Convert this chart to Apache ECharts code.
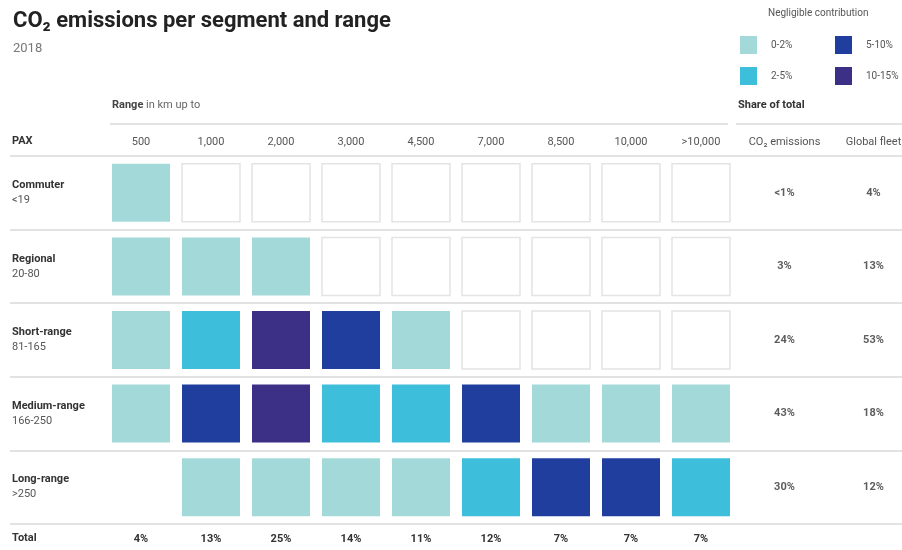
<!DOCTYPE html>
<html>
<head>
<meta charset="utf-8">
<script src="https://cdn.jsdelivr.net/npm/echarts@6/dist/echarts.min.js"></script>
<style>
  html, body { margin: 0; padding: 0; background: #fff; }
  #chart { width: 902px; height: 550px; }
</style>
</head>
<body>
<div id="chart"></div>
<script>
// range columns (km, "up to")
const ranges = ["500", "1,000", "2,000", "3,000", "4,500", "7,000", "8,500", "10,000", ">10,000"];
const segments = ["Commuter", "Regional", "Short-range", "Medium-range", "Long-range"];
const paxRanges = ["<19", "20-80", "81-165", "166-250", ">250"];

// emission class per cell: 0 negligible, 1 = 0-2%, 2 = 2-5%, 3 = 5-10%, 4 = 10-15%, null = no cell
const commuter = [1, 0, 0, 0, 0, 0, 0, 0, 0];
const regional = [1, 1, 1, 0, 0, 0, 0, 0, 0];
const shortRange = [1, 2, 4, 3, 1, 0, 0, 0, 0];
const mediumRange = [1, 3, 4, 2, 2, 3, 1, 1, 1];
const longRange = [null, 1, 1, 1, 1, 2, 3, 3, 2];

const classNames = ["Negligible contribution", "0-2%", "2-5%", "5-10%", "10-15%"];
const classColors = ["#ffffff", "#a3dad9", "#3dbfdc", "#1f3e9e", "#3c2f86"];

const rangeTotals = ["4%", "13%", "25%", "14%", "11%", "12%", "7%", "7%", "7%"];
const shareCo2 = ["<1%", "3%", "24%", "43%", "30%"];
const shareFleet = ["4%", "13%", "53%", "18%", "12%"];

const FONT = "Roboto";
const matrix = [commuter, regional, shortRange, mediumRange, longRange];

const cellSeries = classNames.map((name, level) => {
  const points = [];
  matrix.forEach((row, r) => {
    row.forEach((v, c) => {
      if (v === level) points.push([c, r]);
    });
  });
  return {
    name: name,
    type: "scatter",
    xAxisIndex: 0,
    yAxisIndex: 0,
    symbol: "rect",
    symbolSize: 58,
    data: points,
    itemStyle: level === 0
      ? { color: "#ffffff", borderColor: "#e4e4e4", borderWidth: 1.5, opacity: 1 }
      : { color: classColors[level], opacity: 1 },
    emphasis: { disabled: true },
    silent: true,
  };
});

const shareData = [];
segments.forEach((s, r) => {
  shareData.push([0, r, shareCo2[r]]);
  shareData.push([1, r, shareFleet[r]]);
});

const chart = echarts.init(document.getElementById("chart"), null, { renderer: "canvas" });

const legendText = { color: "#555", fontSize: 10, fontFamily: FONT, padding: [0, 0, 0, 9] };

chart.setOption({
  backgroundColor: "#fff",
  animation: false,
  textStyle: { fontFamily: FONT },
  title: {
    left: 8,
    top: 5,
    text: "CO₂ emissions per segment and range",
    subtext: "2018",
    itemGap: 10,
    textStyle: { fontSize: 22, fontWeight: "bold", color: "#222", fontFamily: FONT },
    subtextStyle: { fontSize: 13, color: "#777", fontFamily: FONT },
  },
  legend: [
    {
      left: 732, top: 1, icon: "rect", itemWidth: 17, itemHeight: 14,
      selectedMode: false, data: [classNames[0]],
      itemStyle: { borderWidth: 0 },
      textStyle: legendText,
    },
    {
      left: 735, top: 31, orient: "vertical", icon: "rect", itemWidth: 17, itemHeight: 18, itemGap: 13,
      selectedMode: false, data: [classNames[1], classNames[2]],
      textStyle: legendText,
    },
    {
      left: 830, top: 31, orient: "vertical", icon: "rect", itemWidth: 17, itemHeight: 18, itemGap: 13,
      selectedMode: false, data: [classNames[3], classNames[4]],
      textStyle: legendText,
    },
  ],
  grid: [
    { left: 106, right: 166, top: 156, bottom: 26, outerBoundsMode: "none" },
    { left: 740, width: 178, top: 156, bottom: 26, outerBoundsMode: "none" },
    { left: 10, right: 0, top: 156, bottom: 26, outerBoundsMode: "none" },
  ],
  xAxis: [
    {
      gridIndex: 0, type: "category", position: "top", data: ranges,
      axisLine: { show: false }, axisTick: { show: false },
      axisLabel: { color: "#555", fontSize: 11, margin: 8, interval: 0 },
    },
    {
      gridIndex: 0, type: "category", position: "bottom", data: rangeTotals,
      axisLine: { show: false }, axisTick: { show: false },
      axisLabel: { color: "#333", fontSize: 11, fontWeight: "bold", margin: 10, interval: 0 },
    },
    {
      gridIndex: 1, type: "category", position: "top", data: ["CO₂ emissions", "Global fleet"],
      axisLine: { show: false }, axisTick: { show: false },
      axisLabel: { color: "#555", fontSize: 11, margin: 8, interval: 0, hideOverlap: false },
    },
    { gridIndex: 2, type: "value", show: false, min: 0, max: 1 },
  ],
  yAxis: [
    {
      gridIndex: 0, type: "category", inverse: true, data: segments,
      axisLine: { show: false }, axisTick: { show: false },
      axisLabel: {
        align: "left", margin: 94, interval: 0,
        formatter: (value, idx) => "{b|" + value + "}\n{n|" + paxRanges[idx] + "}",
        rich: {
          b: { fontSize: 11, fontWeight: "bold", color: "#333", lineHeight: 15, fontFamily: FONT },
          n: { fontSize: 11, color: "#555", lineHeight: 15, fontFamily: FONT },
        },
      },
    },
    {
      gridIndex: 1, type: "category", inverse: true, data: segments, show: false,
    },
    {
      gridIndex: 2, type: "category", inverse: true, data: segments,
      axisLine: { show: false }, axisTick: { show: false }, axisLabel: { show: false },
      splitLine: { show: true, lineStyle: { color: "#d9d9d9", width: 1.5 } },
    },
  ],
  graphic: [
    {
      type: "text", left: 112, top: 100,
      style: {
        text: "{b|Range} in km up to",
        fill: "#666", font: "11px " + FONT,
        rich: { b: { fontWeight: "bold", fill: "#444", fontSize: 11, fontFamily: FONT } },
      },
    },
    {
      type: "text", left: 738, top: 100,
      style: { text: "Share of total", fill: "#333", font: "bold 11px " + FONT },
    },
    {
      type: "text", left: 12, top: 136,
      style: { text: "PAX", fill: "#333", font: "bold 11px " + FONT },
    },
    {
      type: "text", left: 12, top: 533,
      style: { text: "Total", fill: "#333", font: "bold 11px " + FONT },
    },
    {
      type: "line", shape: { x1: 110, y1: 124, x2: 728, y2: 124 },
      style: { stroke: "#d9d9d9", lineWidth: 1.5 },
    },
    {
      type: "line", shape: { x1: 736, y1: 124, x2: 902, y2: 124 },
      style: { stroke: "#d9d9d9", lineWidth: 1.5 },
    },
  ],
  series: cellSeries.concat([
    {
      type: "scatter",
      xAxisIndex: 2,
      yAxisIndex: 1,
      symbolSize: 1,
      itemStyle: { color: "transparent" },
      data: shareData,
      silent: true,
      label: {
        show: true, position: "inside",
        formatter: (p) => p.value[2],
        color: "#333", fontSize: 11, fontWeight: "bold", fontFamily: FONT,
      },
    },
  ]),
});
</script>
</body>
</html>
